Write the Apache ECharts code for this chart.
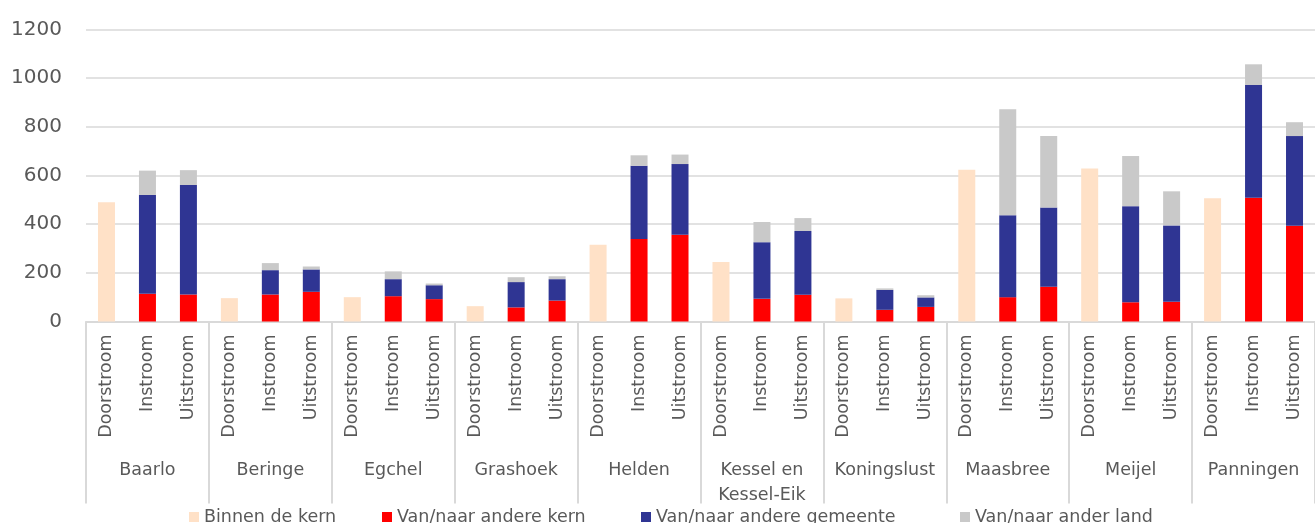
<!DOCTYPE html>
<html>
<head>
<meta charset="utf-8">
<title>Doorstroom, instroom en uitstroom per kern</title>
<script src="https://cdn.jsdelivr.net/npm/echarts@6/dist/echarts.min.js"></script>
<style>
  html, body { margin: 0; padding: 0; background: #ffffff; }
  #chart { width: 1315px; height: 523px; }
</style>
</head>
<body>
<div id="chart"></div>
<script>
// Kernen (group labels) and the three flow types inside each kern
const kernen = ['Baarlo', 'Beringe', 'Egchel', 'Grashoek', 'Helden', 'Kessel en\nKessel-Eik',
  'Koningslust', 'Maasbree', 'Meijel', 'Panningen'];
const stromen = ['Doorstroom', 'Instroom', 'Uitstroom'];

// Y-axis ticks
const yMin = 0, yMax = 1200, yStep = 200;

// Doorstroom: moves within the same kern (one value per kern)
const binnenDeKern = [490, 96, 100, 63, 315, 245, 95, 624, 629, 506];

// Instroom / Uitstroom per kern, one value per kern
const andereKernIn      = [114, 111, 104, 58, 339, 93, 48, 100, 79, 509];
const andereKernUit     = [111, 122, 92, 86, 357, 110, 60, 143, 81, 394];
const andereGemeenteIn  = [406, 100, 70, 104, 301, 233, 82, 337, 395, 463];
const andereGemeenteUit = [450, 92, 57, 88, 290, 262, 39, 325, 314, 368];
const anderLandIn       = [100, 29, 32, 20, 43, 83, 6, 435, 206, 85];
const anderLandUit      = [61, 12, 7, 12, 39, 53, 9, 294, 140, 57];

const seriesNames = ['Binnen de kern', 'Van/naar andere kern', 'Van/naar andere gemeente', 'Van/naar ander land'];
const colors = ['#FFE1C7', '#FF0000', '#2F3593', '#C9C9C9'];

// One category per (kern, stroom) pair
const categories = [];
kernen.forEach(() => stromen.forEach(s => categories.push(s)));

// Spread per-kern values over the 30 categories (null where a flow has no value)
function doorstroomOnly(vals) {
  const out = [];
  vals.forEach(v => out.push(v, null, null));
  return out;
}
function inUit(inVals, uitVals) {
  const out = [];
  inVals.forEach((v, i) => out.push(null, v, uitVals[i]));
  return out;
}
const seriesData = [
  doorstroomOnly(binnenDeKern),
  inUit(andereKernIn, andereKernUit),
  inUit(andereGemeenteIn, andereGemeenteUit),
  inUit(anderLandIn, anderLandUit)
];

const FONT = 'DejaVu Sans';
const TEXT = '#595959';
const LINE = '#D9D9D9';

const chart = echarts.init(document.getElementById('chart'), null, { renderer: 'canvas' });

// Legend entries placed individually along the bottom edge
const legendX = [189, 382, 641, 960];
const legends = seriesNames.map((name, i) => ({
  data: [name],
  left: legendX[i],
  top: 508,
  itemWidth: 10,
  itemHeight: 10,
  itemGap: 6,
  padding: 0,
  icon: 'rect',
  selectedMode: false,
  textStyle: { fontFamily: FONT, fontSize: 17.5, color: TEXT, padding: [0, 0, 0, 0] }
}));

chart.setOption({
  animation: false,
  backgroundColor: '#ffffff',
  grid: { left: 86, top: 29.5, width: 1237, height: 292, containLabel: false },
  legend: legends,
  xAxis: [
    {
      type: 'category',
      data: categories,
      position: 'bottom',
      axisLine: { show: true, lineStyle: { color: LINE, width: 2 } },
      axisTick: { show: false },
      axisLabel: {
        interval: 0,
        rotate: 90,
        margin: 13,
        fontFamily: FONT,
        fontSize: 17.5,
        color: TEXT
      },
      splitLine: { show: false }
    },
    {
      type: 'category',
      data: kernen,
      position: 'bottom',
      offset: 0,
      axisLine: { show: false },
      axisTick: { show: true, interval: 0, length: 182, lineStyle: { color: LINE, width: 2 } },
      axisLabel: {
        interval: 0,
        margin: 136,
        fontFamily: FONT,
        fontSize: 17.5,
        lineHeight: 25,
        color: TEXT
      },
      splitLine: { show: false }
    }
  ],
  yAxis: {
    type: 'value',
    min: yMin,
    max: yMax,
    interval: yStep,
    axisLine: { show: false },
    axisTick: { show: false },
    axisLabel: {
      margin: 24,
      fontFamily: FONT,
      fontSize: 20,
      color: TEXT,
      formatter: v => String(v)
    },
    splitLine: { show: true, lineStyle: { color: LINE, width: 1.5 } }
  },
  series: seriesNames.map((name, i) => ({
    name: name,
    type: 'bar',
    stack: 'totaal',
    xAxisIndex: 0,
    barWidth: 17,
    itemStyle: { color: colors[i] },
    data: seriesData[i]
  }))
});
</script>
</body>
</html>
